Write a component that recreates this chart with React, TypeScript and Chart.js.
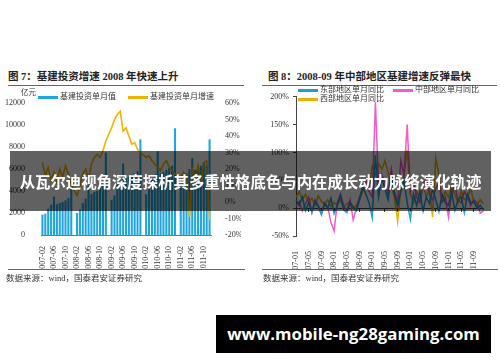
import React, { useEffect, useRef } from 'react';
import { Chart, registerables } from 'chart.js';

Chart.register(...registerables);

// ---------- Left chart data (图7) ----------
const investMonths = [
  '2007-02', '2007-03', '2007-04', '2007-05', '2007-06', '2007-07', '2007-08', '2007-09', '2007-10', '2007-11', '2007-12',
  '2008-01', '2008-02', '2008-03', '2008-04', '2008-05', '2008-06', '2008-07', '2008-08', '2008-09', '2008-10', '2008-11', '2008-12',
  '2009-01', '2009-02', '2009-03', '2009-04', '2009-05', '2009-06', '2009-07', '2009-08', '2009-09', '2009-10', '2009-11', '2009-12',
  '2010-01', '2010-02', '2010-03', '2010-04', '2010-05', '2010-06', '2010-07', '2010-08', '2010-09', '2010-10', '2010-11', '2010-12',
  '2011-01', '2011-02', '2011-03', '2011-04', '2011-05', '2011-06', '2011-07', '2011-08', '2011-09', '2011-10', '2011-11', '2011-12',
];

// 基建投资单月值 (亿元)
const investValue = [
  1850, 1950, 2400, 2750, 3500, 2800, 2900, 3000, 3150, 3350, 4400,
  null, 2000, 2300, 2900, 3300, 4500, 3700, 3900, 4000, 4300, 4500, 7500,
  null, 3200, 3600, 4600, 5000, 6500, 5200, 5300, 5500, 5600, 5800, 8700,
  null, 3700, 4200, 5000, 5500, 7600, 5600, 5700, 5900, 6100, 6300, 9700,
  null, 4300, 4900, 5600, 6000, 7000, 5900, 6100, 6300, 6600, 6300, 8700,
];

// 基建投资单月增速 (%)
const investGrowth = [
  24, 16, 21, 13, 18, 12, 20, 15, 22, 17, 10,
  null, 4, 9, 17, 20, 14, 23, 27, 29, 27, 31, 37,
  null, 45, 50, 53, 55, 43, 45, 40, 35, 36, 32, 30,
  null, 27, 28, 25, 23, 21, 19, 23, 25, 21, 19, 17,
  null, 15, 18, 16, -9, 20, 14, 22, 12, 24, 25, -11,
];

const leftAxisTicks = { min: 0, max: 12000, step: 2000 };
const rightAxisTicks = { min: -20, max: 60, step: 10 };

// ---------- Right chart data (图8) ----------
const regionMonths = [
  '2007-01', '2007-02', '2007-03', '2007-04', '2007-05', '2007-06', '2007-07', '2007-08', '2007-09', '2007-10', '2007-11', '2007-12',
  '2008-01', '2008-02', '2008-03', '2008-04', '2008-05', '2008-06', '2008-07', '2008-08', '2008-09', '2008-10', '2008-11', '2008-12',
  '2009-01', '2009-02', '2009-03', '2009-04', '2009-05', '2009-06', '2009-07', '2009-08', '2009-09', '2009-10', '2009-11', '2009-12',
  '2010-01', '2010-02', '2010-03', '2010-04', '2010-05', '2010-06', '2010-07', '2010-08', '2010-09', '2010-10', '2010-11', '2010-12',
  '2011-01', '2011-02', '2011-03', '2011-04', '2011-05', '2011-06', '2011-07', '2011-08', '2011-09', '2011-10', '2011-11', '2011-12',
];

// 东部地区单月同比 (%)
const eastYoY = [
  15, 5, 20, -5, 10, -8, 12, 3, -12, 8, 0, 18,
  -10, 5, 22, -3, -8, 10, 2, -5, 15, 40, 25, 10,
  -17, 95, 20, 55, 35, 15, 60, 25, 5, 30, 50, 10,
  -20, 25, 5, 30, -5, 20, 8, 35, 15, -6, 25, 10,
  5, 30, -4, 15, 20, -8, 25, 10, 12, 0, 5, -3,
];

// 中部地区单月同比 (%)
const centralYoY = [
  5, 12, -5, 8, 20, -8, 15, 5, -10, 10, 2, -26,
  -41, 10, 25, 5, -5, 15, -21, 0, 20, 35, 50, 30,
  20, 190, 40, 60, 45, 25, 70, 30, 10, 85, 60, 150,
  30, 45, 20, 10, 40, 55, 25, 15, 35, 45, 10, 20,
  -16, 25, 40, 15, 10, 30, 20, 5, 15, 10, -9, -5,
];

// 西部地区单月同比 (%)
const westYoY = [
  20, 30, 15, 25, 10, 18, 5, 22, 12, 8, 15, 3,
  10, 6, 14, 2, 8, 12, 0, 5, 15, 30, 45, 40,
  75, 60, 80, 70, 85, 65, 40, 20, -24, 35, 60, 105,
  25, 10, 30, 15, 45, 20, 35, -16, 90, 60, 15, 30,
  20, 40, 25, 10, 30, 15, 20, 35, 10, 5, 15, 8,
];

const regionAxisTicks = { min: -50, max: 200, step: 50 };

// ---------- Styles ----------
const BLUE = '#1fa6de';
const ORANGE = '#f2b200';
const PINK = '#f45cc8';
const LINE_BLUE = '#1ba0d8';
const LINE_ORANGE = '#e9b000';
const SERIF = "'Liberation Serif', 'Times New Roman', serif";
const TEXT_FONT = "'Liberation Serif', 'Noto Sans CJK SC', serif";
const TICK_COLOR = '#333';

function LeftChart() {
  const ref = useRef<HTMLCanvasElement>(null);
  useEffect(() => {
    const tickFont = { family: SERIF, size: 8 };
    const chart = new Chart(ref.current as HTMLCanvasElement, {
      type: 'bar',
      data: {
        labels: investMonths,
        datasets: [
          {
            type: 'line',
            label: '基建投资单月增速',
            data: investGrowth,
            yAxisID: 'y1',
            borderColor: ORANGE,
            borderWidth: 1.6,
            pointRadius: 0,
            spanGaps: true,
            tension: 0,
            order: 0,
          } as any,
          {
            type: 'bar',
            label: '基建投资单月值',
            data: investValue,
            yAxisID: 'y',
            backgroundColor: BLUE,
            barPercentage: 0.72,
            categoryPercentage: 1,
            order: 1,
          } as any,
        ],
      },
      options: {
        responsive: false,
        animation: false,
        devicePixelRatio: 1,
        layout: { padding: { top: 15, left: 0, right: 9, bottom: 8 } },
        plugins: { legend: { display: false }, tooltip: { enabled: false } },
        scales: {
          x: {
            grid: { display: false },
            border: { display: true, color: '#777' },
            ticks: {
              autoSkip: false,
              minRotation: 90,
              maxRotation: 90,
              padding: 3,
              font: tickFont,
              color: TICK_COLOR,
              callback: (_v: any, i: number) => (i % 4 === 0 ? investMonths[i] : ''),
            },
            afterFit: (s: any) => { s.height = 35; },
          },
          y: {
            position: 'left',
            min: leftAxisTicks.min,
            max: leftAxisTicks.max,
            ticks: {
              stepSize: leftAxisTicks.step,
              padding: 8,
              font: tickFont,
              color: TICK_COLOR,
              callback: (v: any) => String(v),
            },
            grid: { display: false },
            border: { display: false },
            afterFit: (s: any) => { s.width = 41; },
          },
          y1: {
            position: 'right',
            min: rightAxisTicks.min,
            max: rightAxisTicks.max,
            ticks: {
              stepSize: rightAxisTicks.step,
              padding: 6,
              font: tickFont,
              color: TICK_COLOR,
              callback: (v: any) => v + '%',
            },
            grid: { display: false },
            border: { display: false },
            afterFit: (s: any) => { s.width = 30; },
          },
        },
      } as any,
    });
    return () => chart.destroy();
  }, []);
  return <canvas ref={ref} width={250} height={190} style={{ display: 'block' }} />;
}

function RightChart() {
  const ref = useRef<HTMLCanvasElement>(null);
  useEffect(() => {
    const tickFont = { family: SERIF, size: 8 };
    const chart = new Chart(ref.current as HTMLCanvasElement, {
      type: 'line',
      data: {
        labels: regionMonths,
        datasets: [
          { label: '东部地区单月同比', data: eastYoY, borderColor: LINE_BLUE, borderWidth: 1.5, pointRadius: 0, tension: 0 },
          { label: '中部地区单月同比', data: centralYoY, borderColor: PINK, borderWidth: 1.5, pointRadius: 0, tension: 0 },
          { label: '西部地区单月同比', data: westYoY, borderColor: LINE_ORANGE, borderWidth: 1.5, pointRadius: 0, tension: 0 },
        ],
      },
      options: {
        responsive: false,
        animation: false,
        devicePixelRatio: 1,
        layout: { padding: { top: 6, left: 0, right: 10, bottom: 8 } },
        plugins: { legend: { display: false }, tooltip: { enabled: false } },
        scales: {
          x: {
            offset: false,
            grid: { display: false },
            border: { display: false },
            ticks: {
              autoSkip: false,
              minRotation: 90,
              maxRotation: 90,
              padding: 7,
              font: tickFont,
              color: TICK_COLOR,
              callback: (_v: any, i: number) => (i % 4 === 0 ? regionMonths[i] : ''),
            },
            afterFit: (s: any) => { s.height = 34; },
          },
          x2: {
            type: 'category',
            position: { y: 0 },
            offset: false,
            grid: {
              drawOnChartArea: false,
              drawTicks: true,
              tickLength: 3,
              color: (ctx: any) => (ctx.index % 4 === 0 ? '#444' : 'rgba(0,0,0,0)'),
            },
            border: { display: true, color: '#444' },
            ticks: { display: false },
            afterFit: (s: any) => { s.height = 0; },
          },
          y: {
            min: regionAxisTicks.min,
            max: regionAxisTicks.max,
            ticks: {
              stepSize: regionAxisTicks.step,
              padding: 4,
              font: tickFont,
              color: TICK_COLOR,
              callback: (v: any) => v + '%',
            },
            grid: { drawOnChartArea: false, drawTicks: true, tickLength: 3, color: '#444' },
            border: { display: true, color: '#444' },
            afterFit: (s: any) => { s.width = 46; },
          },
        },
      } as any,
    });
    return () => chart.destroy();
  }, []);
  return <canvas ref={ref} width={250} height={190} style={{ display: 'block' }} />;
}

const abs = (o: React.CSSProperties): React.CSSProperties => ({ position: 'absolute', whiteSpace: 'nowrap', ...o });

export default function App() {
  return (
    <div style={{ position: 'absolute', left: 0, top: 0, width: 500, height: 362, background: '#fff', overflow: 'hidden', fontFamily: TEXT_FONT, color: '#222' }}>
      {/* titles */}
      <div style={abs({ left: 8, top: 69, fontSize: 10.5, fontWeight: 'bold', lineHeight: '16px' })}>图 7：基建投资增速 2008 年快速上升</div>
      <div style={abs({ left: 8, top: 85, width: 236, height: 1, background: '#666' })} />
      <div style={abs({ left: 268, top: 69, fontSize: 10.5, fontWeight: 'bold', lineHeight: '16px' })}>图 8：2008-09 年中部地区基建增速反弹最快</div>
      <div style={abs({ left: 262, top: 85, width: 235, height: 1, background: '#666' })} />

      {/* charts */}
      <div style={abs({ left: 0, top: 88, width: 250, height: 190 })}><LeftChart /></div>
      <div style={abs({ left: 250, top: 88, width: 250, height: 190 })}><RightChart /></div>

      {/* left legend */}
      <div style={abs({ left: 21, top: 88, fontSize: 7.5, lineHeight: '10px', color: '#333' })}>亿元</div>
      <div style={abs({ left: 38, top: 95.5, width: 20, height: 3.5, background: BLUE })} />
      <div style={abs({ left: 60, top: 92, fontSize: 8, lineHeight: '10px', color: '#333' })}>基建投资单月值</div>
      <div style={abs({ left: 128, top: 96, width: 20, height: 2.5, background: ORANGE })} />
      <div style={abs({ left: 150, top: 92, fontSize: 8, lineHeight: '10px', color: '#333' })}>基建投资单月增速</div>

      {/* right legend */}
      <div style={abs({ left: 298, top: 89, width: 20, height: 2.5, background: LINE_BLUE })} />
      <div style={abs({ left: 320, top: 85, fontSize: 8, lineHeight: '10px', color: '#333' })}>东部地区单月同比</div>
      <div style={abs({ left: 393, top: 89, width: 20, height: 2.5, background: PINK })} />
      <div style={abs({ left: 415, top: 85, fontSize: 8, lineHeight: '10px', color: '#333' })}>中部地区单月同比</div>
      <div style={abs({ left: 298, top: 98, width: 20, height: 2.5, background: LINE_ORANGE })} />
      <div style={abs({ left: 320, top: 94, fontSize: 8, lineHeight: '10px', color: '#333' })}>西部地区单月同比</div>

      {/* sources */}
      <div style={abs({ left: 8, top: 269, width: 237, height: 1, background: '#666' })} />
      <div style={abs({ left: 262, top: 269, width: 236, height: 1, background: '#666' })} />
      <div style={abs({ left: 6, top: 273, fontSize: 8.5, lineHeight: '10px', color: '#333' })}>数据来源：wind，国泰君安证券研究</div>
      <div style={abs({ left: 263, top: 273, fontSize: 8.5, lineHeight: '10px', color: '#333' })}>数据来源：wind，国泰君安证券研究</div>

      {/* banner overlay */}
      <div style={abs({ left: 10, top: 151, width: 481, height: 60, background: 'rgba(0,0,0,0.62)', display: 'flex', alignItems: 'center', justifyContent: 'center' })}>
        <span style={{ color: '#fff', fontWeight: 'bold', fontSize: 15.4, fontFamily: "'Noto Sans CJK SC', sans-serif", whiteSpace: 'nowrap', lineHeight: '20px' }}>从瓦尔迪视角深度探析其多重性格底色与内在成长动力脉络演化轨迹</span>
      </div>

      {/* watermark */}
      <div style={abs({ left: 216, top: 315, width: 275, height: 38, background: '#000', display: 'flex', alignItems: 'center', justifyContent: 'center' })}>
        <span style={{ color: '#fff', fontWeight: 'bold', fontSize: 16.8, fontFamily: "'Open Sans', 'Noto Sans', sans-serif", lineHeight: '20px' }}>www.mobile-ng28gaming.com</span>
      </div>
    </div>
  );
}
